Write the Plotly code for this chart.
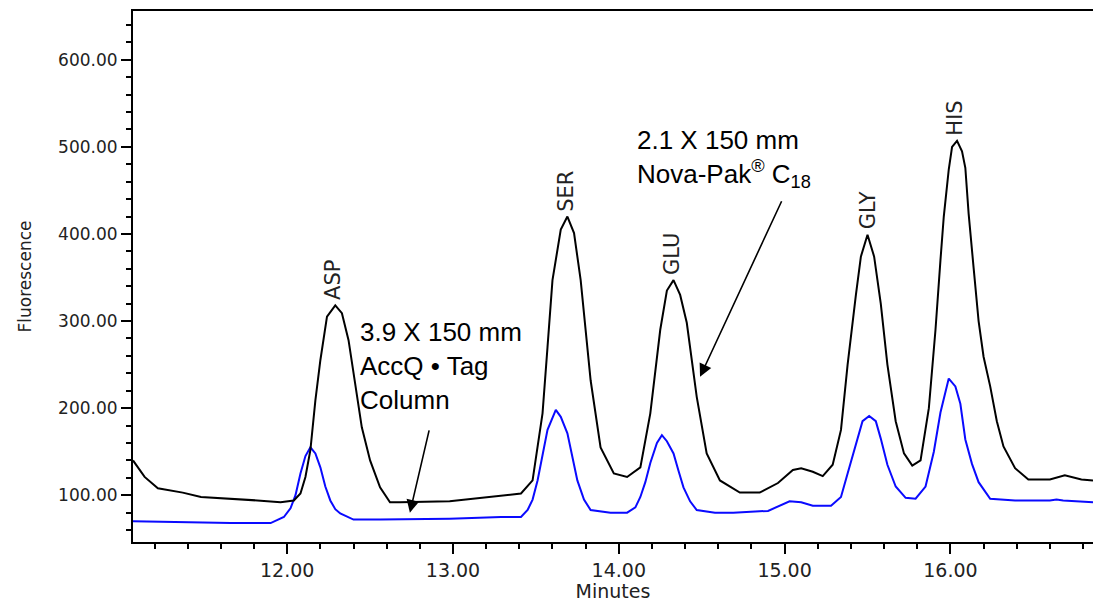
import plotly.graph_objects as go

# Retention time (minutes) and fluorescence, 2.1 x 150 mm Nova-Pak C18 (black)
t_nova = [11.07, 11.14, 11.22, 11.37, 11.48, 11.67, 11.82, 11.96, 12.04, 12.08,
          12.11, 12.14, 12.17, 12.20, 12.24, 12.29, 12.33, 12.37, 12.41, 12.45,
          12.50, 12.56, 12.62, 12.68, 12.98, 13.29, 13.41, 13.48, 13.54, 13.57,
          13.60, 13.65, 13.69, 13.73, 13.77, 13.83, 13.89, 13.97, 14.05, 14.13,
          14.19, 14.25, 14.29, 14.33, 14.37, 14.41, 14.47, 14.53, 14.61, 14.73,
          14.85, 14.96, 15.05, 15.10, 15.17, 15.23, 15.29, 15.34, 15.38, 15.43,
          15.46, 15.50, 15.54, 15.58, 15.62, 15.67, 15.72, 15.77, 15.82, 15.87,
          15.91, 15.94, 15.96, 15.99, 16.01, 16.04, 16.07, 16.09, 16.11, 16.14,
          16.17, 16.20, 16.24, 16.28, 16.32, 16.39, 16.47, 16.60, 16.69, 16.79,
          16.86]
y_nova = [140, 121, 108, 103, 98, 96, 94, 92, 94, 102,
          121, 152, 209, 255, 305, 318, 309, 278, 229, 178,
          140, 109, 92, 92, 93, 100, 102, 117, 194, 270,
          347, 405, 420, 401, 347, 232, 155, 125, 121, 132,
          194, 290, 335, 347, 330, 298, 213, 148, 117, 103,
          103, 114, 129, 131, 127, 122, 135, 175, 250, 330,
          374, 399, 374, 320, 250, 185, 148, 134, 140, 200,
          290, 370, 420, 474, 500, 507, 495, 476, 423, 361,
          300, 259, 225, 185, 156, 131, 118, 118, 123, 118,
          117]

# 3.9 x 150 mm AccQ-Tag column (blue)
t_accq = [11.07, 11.35, 11.66, 11.90, 11.98, 12.02, 12.05, 12.08, 12.11, 12.14,
          12.17, 12.20, 12.23, 12.26, 12.29, 12.32, 12.40, 12.56, 12.98, 13.29,
          13.41, 13.45, 13.48, 13.51, 13.54, 13.57, 13.62, 13.65, 13.69, 13.72,
          13.75, 13.79, 13.83, 13.95, 14.05, 14.10, 14.13, 14.16, 14.19, 14.23,
          14.26, 14.29, 14.33, 14.36, 14.39, 14.43, 14.47, 14.58, 14.69, 14.90,
          14.97, 15.03, 15.10, 15.17, 15.28, 15.34, 15.38, 15.43, 15.47, 15.51,
          15.55, 15.58, 15.62, 15.67, 15.73, 15.79, 15.85, 15.90, 15.94, 15.99,
          16.03, 16.06, 16.09, 16.13, 16.17, 16.24, 16.39, 16.60, 16.64, 16.68,
          16.86]
y_accq = [70, 69, 68, 68, 75, 85, 100, 125, 145, 155,
          148, 132, 110, 94, 84, 79, 72, 72, 73, 75,
          75, 83, 95, 117, 145, 175, 198, 190, 171, 145,
          117, 95, 83, 80, 80, 86, 98, 115, 137, 160,
          169, 162, 148, 128, 109, 93, 83, 80, 80, 82,
          88, 93, 92, 88, 88, 98, 125, 160, 185, 191,
          185, 165, 135, 110, 97, 96, 110, 150, 195, 234,
          225, 205, 164, 136, 115, 96, 94, 94, 95, 94,
          92]

peak_names = ["ASP", "SER", "GLU", "GLY", "HIS"]
peak_times = [12.28, 13.68, 14.32, 15.50, 16.03]
peak_heights = [318, 420, 347, 399, 507]

x_ticks = [12, 13, 14, 15, 16]
y_ticks = [100, 200, 300, 400, 500, 600]

fig = go.Figure()
fig.add_trace(go.Scatter(x=t_accq, y=y_accq, mode="lines",
                         line=dict(color="#0a0aff", width=2), showlegend=False))
fig.add_trace(go.Scatter(x=t_nova, y=y_nova, mode="lines",
                         line=dict(color="#000000", width=2), showlegend=False))

annotations = []
for name, t, h in zip(peak_names, peak_times, peak_heights):
    annotations.append(dict(x=t, y=h, text=name, showarrow=False, textangle=-90,
                            xanchor="center", yanchor="bottom", yshift=3,
                            font=dict(family="DejaVu Sans", size=21, color="#222")))

annotations.append(dict(x=12.43, y=248, xanchor="left", yanchor="middle", align="left",
                        text="3.9 X 150 mm<br>AccQ • Tag<br>Column", showarrow=False,
                        font=dict(family="Liberation Sans, Arial", size=26, color="#000")))
annotations.append(dict(x=14.10, y=487, xanchor="left", yanchor="middle", align="left",
                        text="2.1 X 150 mm<br>Nova-Pak<sup>®</sup> C<sub>18</sub>",
                        showarrow=False,
                        font=dict(family="Liberation Sans, Arial", size=26, color="#000")))
# arrows
annotations.append(dict(x=12.74, y=80, ax=12.87, ay=186, axref="x", ayref="y",
                        text=" ", showarrow=True, arrowhead=2, arrowsize=1.6,
                        arrowwidth=1.6, arrowcolor="#000", standoff=0, startstandoff=0))
annotations.append(dict(x=14.49, y=236, ax=15.0, ay=445, axref="x", ayref="y",
                        text=" ", showarrow=True, arrowhead=2, arrowsize=1.6,
                        arrowwidth=1.6, arrowcolor="#000", standoff=0, startstandoff=0))

fig.update_layout(
    width=1093, height=602,
    margin=dict(l=133, r=0, t=11, b=60),
    paper_bgcolor="white", plot_bgcolor="white",
    annotations=annotations,
    xaxis=dict(range=[11.07, 16.86], tickvals=x_ticks,
               ticktext=[f"{v:.2f}" for v in x_ticks], automargin=False,
               ticks="outside", ticklen=10, tickwidth=2, tickcolor="#000",
               minor=dict(dtick=0.2, tick0=0, ticks="outside", ticklen=5,
                          tickwidth=2, tickcolor="#000"),
               showline=True, linecolor="#000", linewidth=2, mirror=True,
               showgrid=False, zeroline=False,
               tickfont=dict(family="DejaVu Sans", size=19, color="#222"),
               title=dict(text="Minutes", standoff=5,
                          font=dict(family="DejaVu Sans", size=19, color="#222"))),
    yaxis=dict(range=[46.3, 656], tickvals=y_ticks,
               ticktext=[f"{v:.2f}" for v in y_ticks], automargin=False,
               ticks="outside", ticklen=10, tickwidth=2, tickcolor="#000",
               minor=dict(dtick=20, tick0=0, ticks="outside", ticklen=5,
                          tickwidth=2, tickcolor="#000"),
               showline=True, linecolor="#000", linewidth=2, mirror=False,
               showgrid=False, zeroline=False,
               tickfont=dict(family="DejaVu Sans", size=17, color="#222"),
               title=dict(text="Fluorescence", standoff=22,
                          font=dict(family="DejaVu Sans", size=17, color="#222"))),
)

fig.write_html("out.html", config={"displayModeBar": False},
               post_script="document.body.style.margin='0';document.body.style.overflow='hidden';")
